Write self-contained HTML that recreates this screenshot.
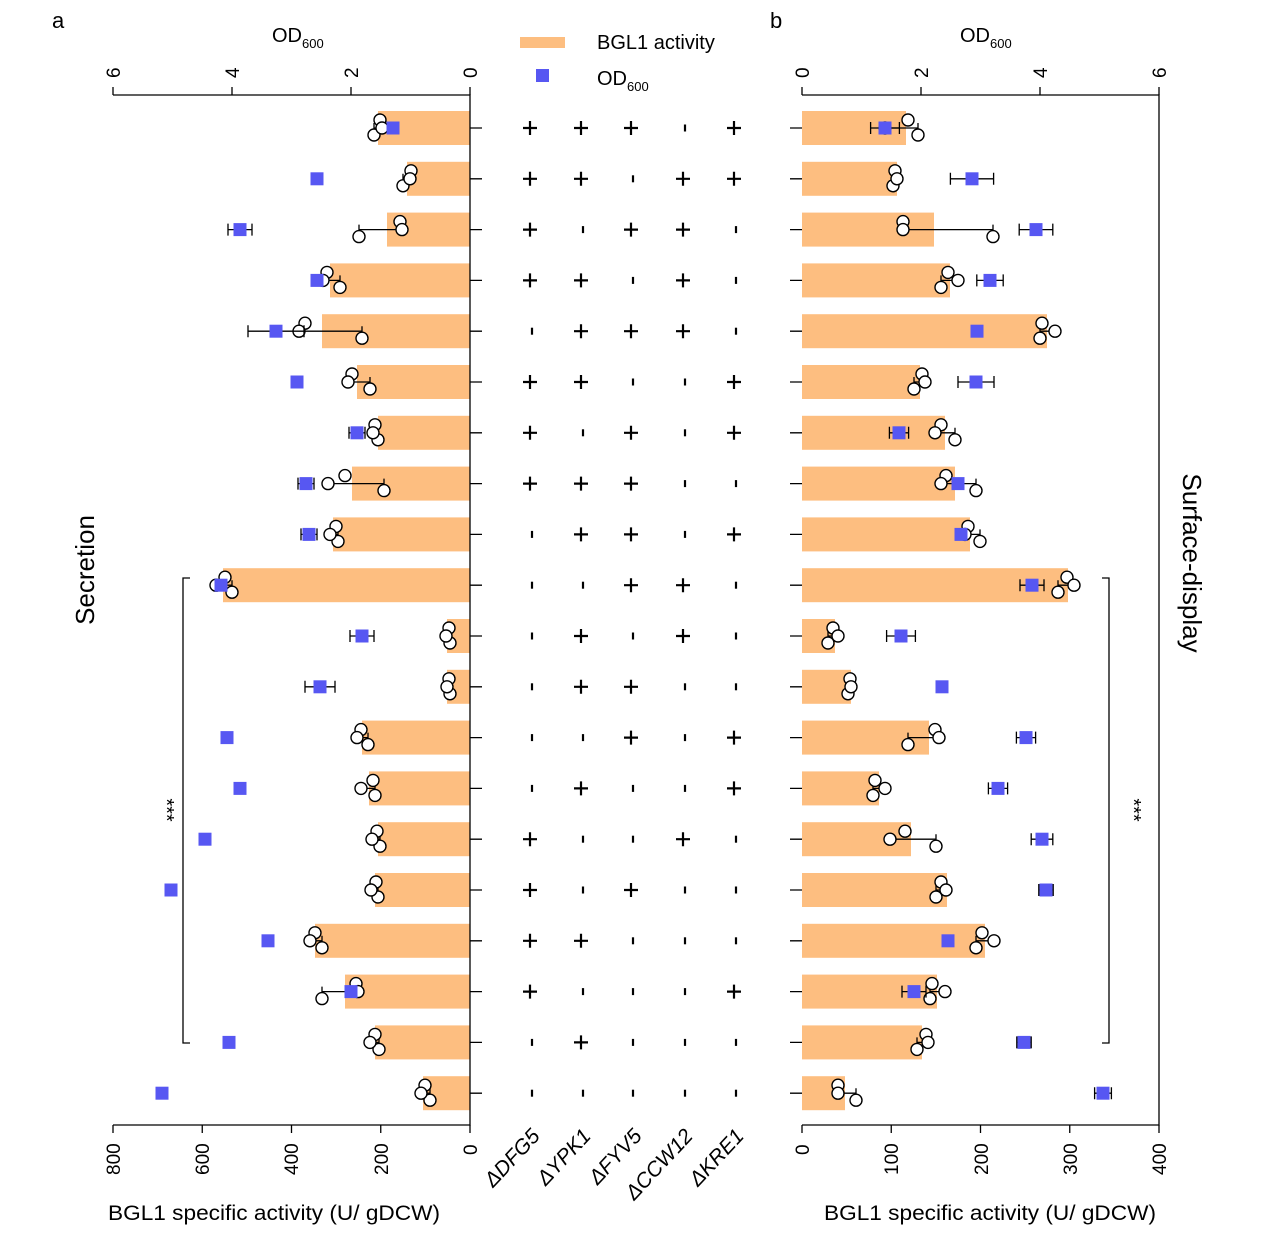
<!DOCTYPE html>
<html><head><meta charset="utf-8"><style>
body{margin:0;background:#fff}
svg{display:block;font-family:"Liberation Sans",Arial,sans-serif}
</style></head><body>
<svg id="s" width="1270" height="1233" viewBox="0 0 1270 1233" xmlns="http://www.w3.org/2000/svg">
<rect width="1270" height="1233" fill="#fff"/>
<text x="52" y="28" font-size="22">a</text>
<text x="770" y="28" font-size="22">b</text>
<rect x="520" y="37" width="45" height="11" fill="#fdbe80"/>
<text x="597" y="49" font-size="20">BGL1 activity</text>
<rect x="536" y="69" width="13" height="13" fill="#5757f2"/>
<text x="597" y="85" font-size="20">OD<tspan font-size="13" dy="6">600</tspan></text>
<text x="272" y="42" font-size="20">OD<tspan font-size="13" dy="6">600</tspan></text>
<text x="960" y="42" font-size="20">OD<tspan font-size="13" dy="6">600</tspan></text>
<text x="108" y="1220" font-size="21" textLength="332" lengthAdjust="spacingAndGlyphs">BGL1 specific activity (U/ gDCW)</text>
<text x="824" y="1220" font-size="21" textLength="332" lengthAdjust="spacingAndGlyphs">BGL1 specific activity (U/ gDCW)</text>
<text transform="translate(94,570) rotate(-90)" font-size="26" text-anchor="middle">Secretion</text>
<text transform="translate(1183,563) rotate(90)" font-size="26" text-anchor="middle">Surface-display</text>
<g font-size="19" text-anchor="start">
<text transform="translate(120,1175) rotate(-90)">800</text>
<text transform="translate(209,1175) rotate(-90)">600</text>
<text transform="translate(298,1175) rotate(-90)">400</text>
<text transform="translate(388,1175) rotate(-90)">200</text>
<text transform="translate(477,1155) rotate(-90)">0</text>
<text transform="translate(809,1155) rotate(-90)">0</text>
<text transform="translate(898,1175) rotate(-90)">100</text>
<text transform="translate(988,1175) rotate(-90)">200</text>
<text transform="translate(1077,1175) rotate(-90)">300</text>
<text transform="translate(1166,1175) rotate(-90)">400</text>
<text transform="translate(120,78) rotate(-90)">6</text>
<text transform="translate(239,78) rotate(-90)">4</text>
<text transform="translate(358,78) rotate(-90)">2</text>
<text transform="translate(477,78) rotate(-90)">0</text>
<text transform="translate(809,78) rotate(-90)">0</text>
<text transform="translate(928,78) rotate(-90)">2</text>
<text transform="translate(1047,78) rotate(-90)">4</text>
<text transform="translate(1166,78) rotate(-90)">6</text>
</g>
<g font-size="21" font-style="italic" text-anchor="end">
<text transform="translate(541,1137) rotate(-47)">ΔDFG5</text>
<text transform="translate(592,1137) rotate(-47)">ΔYPK1</text>
<text transform="translate(643,1137) rotate(-47)">ΔFYV5</text>
<text transform="translate(694,1137) rotate(-47)">ΔCCW12</text>
<text transform="translate(745,1137) rotate(-47)">ΔKRE1</text>
</g>
<text transform="translate(160,810) rotate(90)" font-size="20" text-anchor="middle">***</text>
<text transform="translate(1127,810) rotate(90)" font-size="20" text-anchor="middle">***</text>
<g id="g"></g>
</svg>
<script>
var g=document.getElementById('g'),h='';
var Y=[];for(var i=0;i<20;i++)Y.push(128+i*50.8);
var aBar=[378,407,387,330,322,357,378,352,333,223,447,447,362,369,378,375,315,345,375,423];
var aOD=[393,317,240,317,276,297,357,306,309,221,362,320,227,240,205,171,268,351,229,162];
var bBar=[906,897,934,950,1047,920,945,955,970,1068,835,851,929,879,911,947,985,937,922,845];
var bOD=[885,972,1036,990,977,976,899,958,961,1032,901,942,1026,998,1042,1046,948,914,1024,1103];
var aC=[[380,374,382],[411,403,410],[400,359,402],[327,340,323],[305,362,299],[352,370,348],[375,378,373],[345,384,328],[336,338,330],[225,232,216],[449,450,446],[449,450,447],[361,368,357],[373,375,361],[377,380,372],[376,378,371],[315,322,310],[356,322,358],[375,379,370],[425,430,421]];
var bC=[[908,918,885],[895,893,897],[903,993,903],[948,941,958],[1042,1040,1055],[922,914,925],[941,955,935],[946,976,941],[968,980,965],[1067,1058,1074],[833,828,838],[850,848,851],[935,908,939],[875,873,885],[905,936,890],[941,936,946],[982,976,994],[932,930,945],[926,917,928],[838,856,838]];
var aODe=[0,0,12,0,28,0,8,8,8,0,12,15,0,0,0,0,0,0,0,0];
var bODe=[12,18,14,11,0,15,8,0,0,10,12,0,8,8,9,6,0,10,6,7];
var T=["+++-+","++-++","+-++-","++-+-","-+++-","++--+","+-+-+","+++--","-++-+","--++-","-+-+-","-++--","--+-+","-+--+","+--+-","+-+--","++---","+---+","-+---","-----"];
var X=[530,581,631,683,734];
var oc='#fdbe80',bc='#5757f2';
for(i=0;i<20;i++){var y=Y[i];
h+='<rect x="'+aBar[i]+'" y="'+(y-17)+'" width="'+(470-aBar[i])+'" height="34" fill="'+oc+'"/>';
h+='<rect x="802" y="'+(y-17)+'" width="'+(bBar[i]-802)+'" height="34" fill="'+oc+'"/>';
var c=aC[i],mn=Math.min.apply(0,c),mx=Math.max.apply(0,c);
h+='<path d="M'+mn+' '+y+'H'+mx+'M'+mn+' '+(y-5)+'v10M'+mx+' '+(y-5)+'v10" stroke="#000" stroke-width="1.3"/>';
var dy=[-8,7,0];
for(var k=0;k<3;k++)h+='<circle cx="'+c[k]+'" cy="'+(y+dy[k])+'" r="6" fill="#fff" stroke="#000" stroke-width="1.4"/>';
c=bC[i];mn=Math.min.apply(0,c);mx=Math.max.apply(0,c);
h+='<path d="M'+mn+' '+y+'H'+mx+'M'+mn+' '+(y-5)+'v10M'+mx+' '+(y-5)+'v10" stroke="#000" stroke-width="1.3"/>';
for(k=0;k<3;k++)h+='<circle cx="'+c[k]+'" cy="'+(y+dy[k])+'" r="6" fill="#fff" stroke="#000" stroke-width="1.4"/>';
if(aODe[i]){var e=aODe[i];h+='<path d="M'+(aOD[i]-e)+' '+y+'H'+(aOD[i]+e)+'M'+(aOD[i]-e)+' '+(y-6)+'v12M'+(aOD[i]+e)+' '+(y-6)+'v12" stroke="#000" stroke-width="1.3"/>';}
if(bODe[i]){var e=bODe[i]*1.2;h+='<path d="M'+(bOD[i]-e)+' '+y+'H'+(bOD[i]+e)+'M'+(bOD[i]-e)+' '+(y-6)+'v12M'+(bOD[i]+e)+' '+(y-6)+'v12" stroke="#000" stroke-width="1.3"/>';}
h+='<rect x="'+(aOD[i]-6.5)+'" y="'+(y-6.5)+'" width="13" height="13" fill="'+bc+'"/>';
h+='<rect x="'+(bOD[i]-6.5)+'" y="'+(y-6.5)+'" width="13" height="13" fill="'+bc+'"/>';
h+='<path d="M470 '+y+'h12M790 '+y+'h12" stroke="#000" stroke-width="1.3"/>';
for(k=0;k<5;k++){var x=X[k];
if(T[i][k]=='+')h+='<path d="M'+(x-7)+' '+y+'h14M'+x+' '+(y-7)+'v14" stroke="#000" stroke-width="2.2"/>';
else h+='<path d="M'+(x+2)+' '+(y-3.5)+'v7" stroke="#000" stroke-width="2.2"/>';}
}
h+='<path d="M113 95H470V1125H113M802 95H1159V1125H802" fill="none" stroke="#000" stroke-width="1.3"/>';
var t;
for(k=0;k<=4;k++){t=113+k*89.25;h+='<path d="M'+t+' 1125v8" stroke="#000" stroke-width="1.3"/>';t=802+k*89.25;h+='<path d="M'+t+' 1125v8" stroke="#000" stroke-width="1.3"/>';}
for(k=0;k<=3;k++){t=113+k*119;h+='<path d="M'+t+' 95v-8" stroke="#000" stroke-width="1.3"/>';t=802+k*119;h+='<path d="M'+t+' 95v-8" stroke="#000" stroke-width="1.3"/>';}
h+='<path d="M190 578H183V1043H190M1102 578H1109V1043H1102" fill="none" stroke="#000" stroke-width="1.3"/>';
g.innerHTML=h;
</script>
</body></html>
